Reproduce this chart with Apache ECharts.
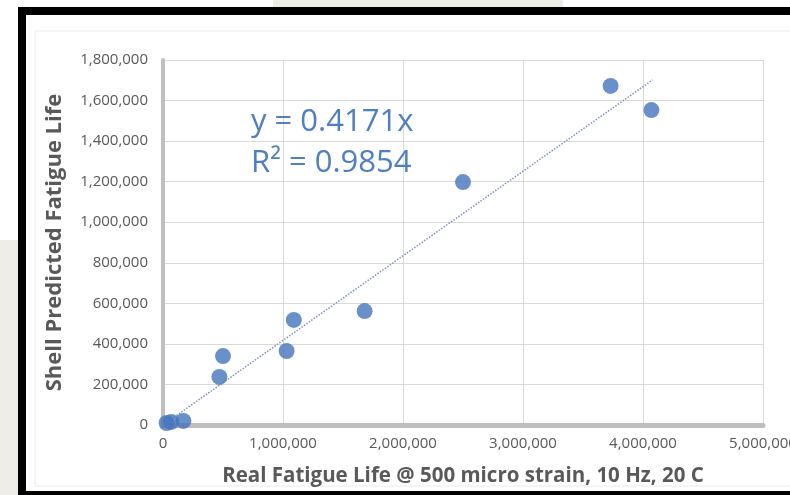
<!DOCTYPE html>
<html>
<head>
    <meta charset="UTF-8">
    <title>Shell Predicted vs Real Fatigue Life</title>
    <script src="https://cdn.jsdelivr.net/npm/echarts@6/dist/echarts.min.js"></script>
    <style>
        html, body { margin: 0; padding: 0; background: #ffffff; }
        #container { width: 790px; height: 495px; }
    </style>
</head>
<body>
<div id="container"></div>
<script>
    var realLife = [30000, 70000, 170000, 470000, 500000, 1030000, 1090000, 1680000, 2500000, 3730000, 4070000];
    var predictedLife = [10000, 15000, 20000, 237000, 340000, 365000, 518000, 562000, 1198000, 1672000, 1553000];

    // dotted trend line ends (y = 0.4171x)
    var trendX = [30000, 4080000];
    var trendY = [12500, 1702000];

    var equationText = 'y = 0.4171x';
    var rSquaredText = 'R² = 0.9854';

    var pointData = realLife.map(function (x, i) { return [x, predictedLife[i]]; });
    var trendData = trendX.map(function (x, i) { return [x, trendY[i]]; });

    function withCommas(v) {
        return v === 0 ? '0' : Number(v).toLocaleString('en-US');
    }

    var chart = echarts.init(document.getElementById('container'), null, {renderer: 'canvas'});
    var option = {
        backgroundColor: '#ffffff',
        animation: false,
        textStyle: { fontFamily: 'Open Sans' },
        grid: { left: 163, right: 27, top: 60, bottom: 70, outerBoundsMode: 'none' },
        xAxis: {
            type: 'value',
            min: 0, max: 5000000, interval: 1000000,
            name: 'Real Fatigue Life @ 500 micro strain, 10 Hz, 20 C',
            nameLocation: 'middle',
            nameGap: 41,
            nameTextStyle: { color: '#595959', fontSize: 20.5, fontWeight: 'bold', fontFamily: 'Open Sans', verticalAlign: 'top' },
            axisLine: { show: true, onZero: false, lineStyle: { color: '#bfbfbf', width: 5 } },
            axisTick: { show: false },
            axisLabel: { color: '#595959', fontSize: 15, margin: 11, formatter: withCommas },
            splitLine: { show: true, lineStyle: { color: '#d9d9d9', width: 1 } }
        },
        yAxis: {
            type: 'value',
            min: 0, max: 1800000, interval: 200000,
            name: 'Shell Predicted Fatigue Life',
            nameLocation: 'middle',
            nameGap: 97,
            nameTextStyle: { color: '#595959', fontSize: 22, fontWeight: 'bold', fontFamily: 'Open Sans' },
            axisLine: { show: true, onZero: false, lineStyle: { color: '#bfbfbf', width: 4 } },
            axisTick: { show: false },
            axisLabel: { color: '#595959', fontSize: 15, margin: 15, formatter: withCommas },
            splitLine: { show: true, lineStyle: { color: '#d9d9d9', width: 1 } }
        },
        series: [
            {
                type: 'line',
                data: trendData,
                symbol: 'none',
                z: 3,
                lineStyle: { color: '#7f93b8', width: 1.5, type: [1.5, 1.5] }
            },
            {
                type: 'scatter',
                data: pointData,
                symbol: 'circle',
                symbolSize: 16,
                z: 4,
                itemStyle: { color: '#4574bd' }
            }
        ],
        graphic: [
            // beige page background peeking around the frame
            { type: 'rect', shape: { x: 273, y: 0, width: 290, height: 7 }, style: { fill: '#efeee6' }, z: 0 },
            { type: 'rect', shape: { x: 0, y: 240, width: 18, height: 255 }, style: { fill: '#efeee6' }, z: 0 },
            // black frame
            { type: 'rect', shape: { x: 18, y: 7, width: 772, height: 8 }, style: { fill: '#000000' }, z: 0 },
            { type: 'rect', shape: { x: 18, y: 7, width: 8, height: 488 }, style: { fill: '#000000' }, z: 0 },
            { type: 'rect', shape: { x: 18, y: 491, width: 772, height: 4 }, style: { fill: '#000000' }, z: 0 },
            // faint chart area border
            { type: 'rect', shape: { x: 35, y: 31, width: 780, height: 455 }, style: { fill: 'none', stroke: '#ebebeb', lineWidth: 1 }, z: 0 },
            { type: 'text', left: 251, top: 107, z: 10, style: { text: equationText, fill: '#4f7fbf', fontSize: 31, fontFamily: 'Open Sans' } },
            { type: 'text', left: 251, top: 148, z: 10, style: { text: rSquaredText, fill: '#4f7fbf', fontSize: 31, fontFamily: 'Open Sans' } }
        ]
    };
    chart.setOption(option);
</script>
</body>
</html>
